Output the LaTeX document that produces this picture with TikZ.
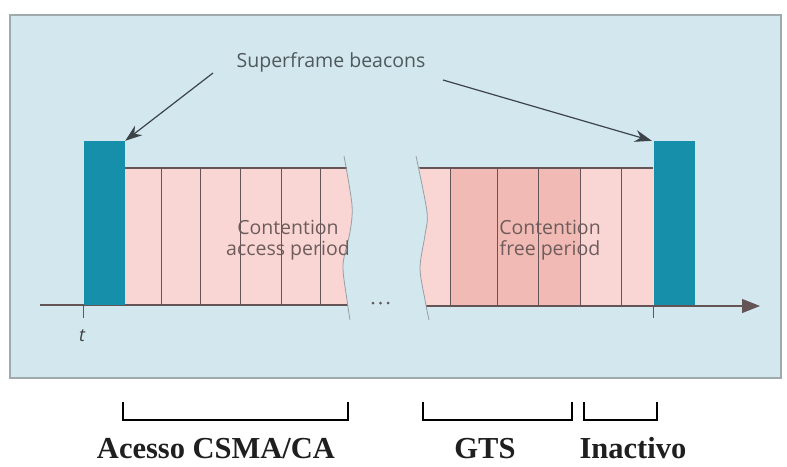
\documentclass[tikz,border=0pt]{standalone}
\usepackage{fontspec}
\setmainfont{Liberation Serif}
\newfontfamily\osans{Open Sans}
\usetikzlibrary{arrows.meta}

\definecolor{panelblue}{RGB}{210,232,238}
\definecolor{paneledge}{RGB}{160,170,172}
\definecolor{beaconteal}{RGB}{22,143,170}
\definecolor{slotpink}{RGB}{249,214,212}
\definecolor{slotsalmon}{RGB}{242,186,180}
\definecolor{slotline}{RGB}{100,84,86}
\definecolor{wavegray}{RGB}{150,158,162}
\definecolor{labelgray}{RGB}{80,88,92}
\definecolor{periodtext}{RGB}{110,92,92}
\definecolor{pointer}{RGB}{60,68,74}

\tikzset{
  beacon/.style={fill=beaconteal, draw=none, inner sep=0pt, minimum width=41pt, minimum height=164pt},
  slotsep/.style={draw=slotline, line width=1pt},
  frameline/.style={draw=slotline, line width=1.1pt},
  tornedge/.style={draw=wavegray, line width=0.8pt},
  pointerarrow/.style={draw=pointer, line width=1.2pt, -{Stealth[length=17pt,width=12pt]}},
  diaglabel/.style={font=\osans\fontsize{19.5}{21}\selectfont, inner sep=0pt},
  spanbracket/.style={draw=black, line width=2.7pt, line cap=butt, line join=miter},
  spanlabel/.style={font=\bfseries\fontsize{30.5}{34}\selectfont, text=black!88, inner sep=0pt, anchor=base}
}

\begin{document}
\begin{tikzpicture}[x=1pt,y=-1pt]
\useasboundingbox (0,0) rectangle (787,466);
\fill[white] (0,0) rectangle (787,466);

% panel
\draw[draw=paneledge, fill=panelblue, line width=1.4pt] (10,15) rectangle (781,378);

% left part of the superframe (contention access period)
\begin{scope}
  \clip (0,100) -- plot[smooth] coordinates {(344,150) (352,205) (350,232) (343,265) (347,300) (351,322)} -- (0,340) -- cycle;
  \fill[slotpink] (125,168) rectangle (400,305);
  \foreach \x in {161,200,240,281,320} \draw[slotsep] (\x,168) -- (\x,305);
  \draw[frameline] (125,168) -- (400,168);
  \draw[frameline] (40,305) -- (400,305);
\end{scope}

% right part of the superframe (contention free period)
\begin{scope}
  \clip plot[smooth] coordinates {(416,150) (427,212) (425,235) (420,268) (425,300) (430,322)} -- (787,340) -- (787,100) -- cycle;
  \fill[slotpink] (400,168) rectangle (653,305);
  \fill[slotsalmon] (450,168) rectangle (580,305);
  \foreach \x in {450,497,538,580,621} \draw[slotsep] (\x,168) -- (\x,305);
  \draw[frameline] (400,168) -- (653,168);
  \draw[frameline, -{Triangle[length=18pt,width=14pt]}] (400,306) -- (760,306);
\end{scope}

% torn edges
\draw[tornedge] plot[smooth] coordinates {(344,156) (352,205) (350,232) (343,265) (347,300) (350,320)};
\draw[tornedge] plot[smooth] coordinates {(416,156) (427,212) (425,235) (420,268) (425,300) (429,320)};

% ellipsis in the gap
\foreach \x in {373,380.5,388} \fill[slotline] (\x,303) circle (1.5pt);

% beacons
\node[beacon] (b1) at (104.5,223) {};
\node[beacon] (b2) at (674.5,223) {};
\draw[frameline] (b1.south west) -- ++(0,13);
\draw[frameline] (b2.south west) -- ++(0,13);

% time label
\node[font=\osans\itshape\fontsize{18}{20}\selectfont, text=black!75, inner sep=0pt] (tlab) at (82,336) {t};

% beacon callout
\node[diaglabel, text=labelgray] (sfb) at (331,62) {Superframe beacons};
\coordinate (p1) at (213,73);
\coordinate (p2) at (443,80);
\draw[pointerarrow] (p1) -- (b1.north east);
\draw[pointerarrow] (p2) -- ([xshift=-2pt]b2.north west);

% period names
\node[diaglabel, text=periodtext, align=center] (cap) at (288,240) {Contention\\access period};
\node[diaglabel, text=periodtext, align=center] (cfp) at (550,240) {Contention\\free period};

% span brackets
\draw[spanbracket] (123,402) -- (123,420) -- (348,420) -- (348,402);
\draw[spanbracket] (423,402) -- (423,420) -- (572,420) -- (572,402);
\draw[spanbracket] (584,402) -- (584,420) -- (657,420) -- (657,402);

\node[spanlabel] (csma) at (216,458) {Acesso CSMA/CA};
\node[spanlabel] (gts) at (485,458) {GTS};
\node[spanlabel] (inact) at (633,458) {Inactivo};
\end{tikzpicture}
\end{document}
